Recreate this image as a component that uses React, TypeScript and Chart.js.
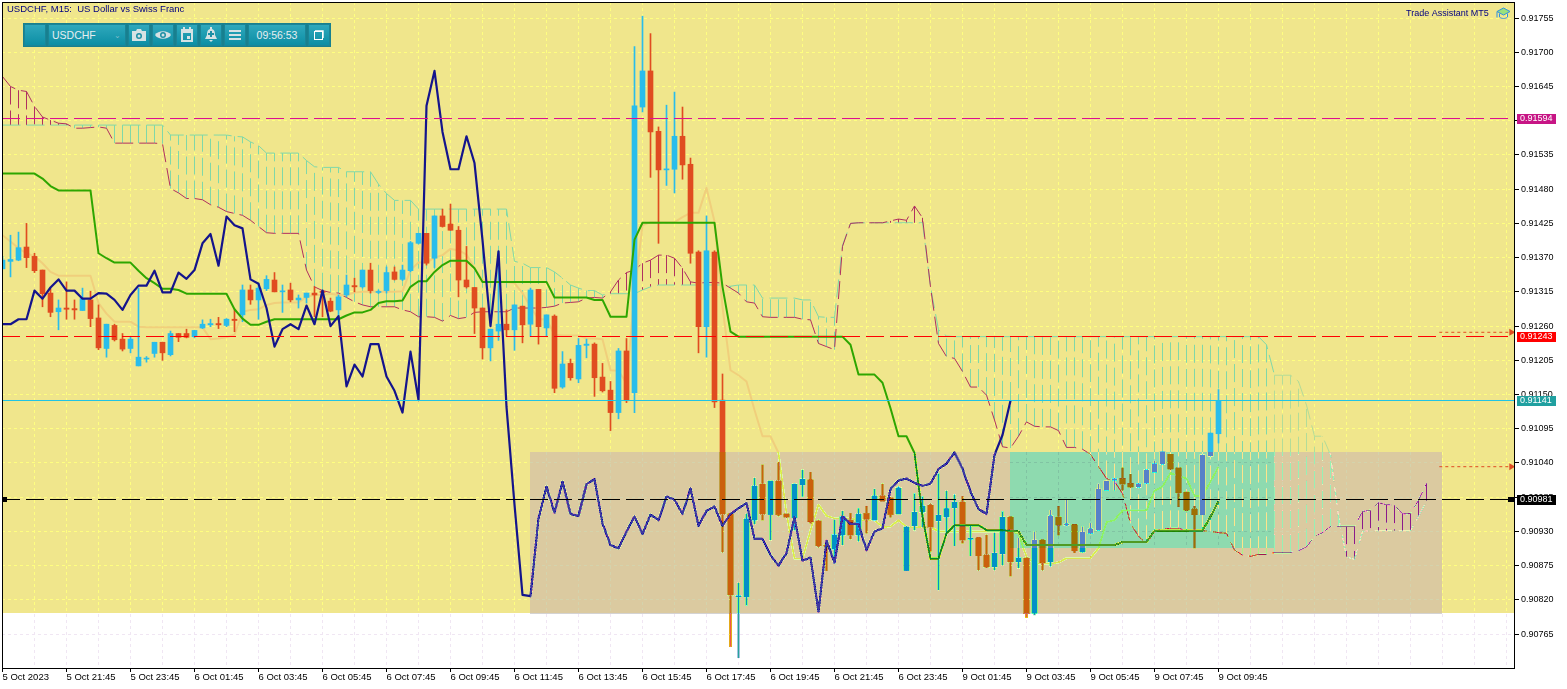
import { useEffect, useRef } from "react";
import { Chart, registerables } from "chart.js";

Chart.register(...registerables);

// all prices are in points (1e-5), one entry per M15 bar
const opens = [
  91352, 91364, 91366, 91387, 91372, 91350, 91313, 91283, 91289, 91288,
  91285, 91302, 91273, 91224, 91261, 91239, 91224, 91196, 91207, 91216,
  91234, 91214, 91248, 91248, 91243, 91257, 91262, 91264, 91261, 91271,
  91278, 91318, 91302, 91320, 91334, 91315, 91318, 91302, 91306, 91313,
  91316, 91300, 91286, 91310, 91325, 91323, 91350, 91314, 91317, 91347,
  91335, 91349, 91393, 91409, 91369, 91437, 91424, 91414, 91334, 91322,
  91289, 91225, 91252, 91263, 91254, 91292, 91263, 91319, 91257, 91276,
  91162, 91200, 91175, 91229, 91231, 91178, 91157, 91121, 91220, 91153,
  91612, 91670, 91573, 91511, 91512, 91565, 91520, 91379, 91259, 91379,
  91141, 90958, 90825, 90825, 90948, 91006, 90957, 91011, 90958, 90952,
  91005, 91013, 90947, 90908, 90901, 90924, 90948, 90924, 90959, 90948,
  90987, 90984, 90958, 90867, 90939, 90961, 90972, 90947, 90953, 90968,
  90977, 90917, 90920, 90892, 90873, 90894, 90953, 90881, 90887, 90798,
  90916, 90881, 90953, 90940, 90941, 90897, 90927, 90932, 90996, 91012,
  91015, 91007, 91001, 91007, 91025, 91038, 91054, 91032, 90993, 90966,
  90957, 91051, 91087,
];
const highs = [
  91372, 91406, 91411, 91425, 91377, 91350, 91320, 91302, 91331, 91302,
  91321, 91316, 91294, 91263, 91263, 91248, 91243, 91321, 91211, 91234,
  91234, 91252, 91248, 91255, 91253, 91270, 91271, 91274, 91272, 91286,
  91326, 91326, 91329, 91341, 91346, 91326, 91329, 91310, 91313, 91323,
  91317, 91305, 91310, 91342, 91337, 91350, 91361, 91318, 91355, 91355,
  91358, 91396, 91409, 91409, 91437, 91448, 91456, 91420, 91388, 91322,
  91289, 91255, 91380, 91286, 91294, 91292, 91321, 91319, 91278, 91278,
  91219, 91207, 91240, 91239, 91233, 91200, 91171, 91224, 91240, 91709,
  91758, 91730, 91580, 91615, 91636, 91612, 91530, 91381, 91437, 91381,
  91183, 90958, 90847, 90958, 91016, 91037, 91011, 91041, 90958, 91007,
  91029, 91025, 90948, 90908, 90948, 90963, 90959, 90967, 90970, 90998,
  91006, 90984, 91002, 90938, 90991, 90986, 90974, 91023, 90995, 90989,
  90986, 90940, 90920, 90924, 90927, 90962, 90953, 90919, 90887, 90930,
  90916, 90964, 90970, 90980, 90941, 90938, 90943, 91006, 91011, 91015,
  91032, 91022, 91007, 91029, 91043, 91058, 91054, 91032, 90993, 90970,
  91053, 91088, 91158,
];
const lows = [
  91352, 91339, 91365, 91354, 91346, 91291, 91275, 91254, 91271, 91271,
  91285, 91259, 91222, 91210, 91236, 91220, 91217, 91196, 91202, 91210,
  91205, 91212, 91235, 91241, 91241, 91256, 91259, 91256, 91259, 91251,
  91267, 91295, 91271, 91317, 91315, 91282, 91299, 91289, 91297, 91275,
  91275, 91283, 91272, 91307, 91315, 91321, 91313, 91312, 91313, 91334,
  91333, 91347, 91392, 91358, 91354, 91419, 91414, 91307, 91321, 91248,
  91207, 91204, 91237, 91244, 91221, 91233, 91243, 91231, 91243, 91153,
  91160, 91173, 91169, 91209, 91147, 91154, 91092, 91111, 91137, 91121,
  91604, 91499, 91393, 91486, 91474, 91496, 91361, 91217, 91210, 91129,
  90897, 90745, 90727, 90811, 90942, 90948, 90916, 90955, 90953, 90932,
  90986, 90943, 90905, 90867, 90879, 90908, 90918, 90914, 90927, 90948,
  90979, 90953, 90958, 90867, 90932, 90937, 90898, 90836, 90924, 90907,
  90911, 90891, 90868, 90872, 90868, 90876, 90858, 90871, 90792, 90796,
  90868, 90874, 90924, 90939, 90896, 90896, 90926, 90932, 90996, 90996,
  90996, 91001, 91001, 91007, 91025, 91038, 91030, 90970, 90963, 90903,
  90957, 91051, 91072,
];
const closes = [
  91366, 91367, 91386, 91370, 91349, 91312, 91282, 91289, 91287, 91286,
  91304, 91272, 91225, 91263, 91238, 91223, 91239, 91210, 91208, 91234,
  91217, 91248, 91242, 91242, 91253, 91263, 91264, 91262, 91271, 91269,
  91318, 91302, 91321, 91335, 91315, 91316, 91302, 91305, 91313, 91310,
  91314, 91284, 91307, 91326, 91323, 91350, 91317, 91315, 91346, 91335,
  91350, 91394, 91409, 91361, 91437, 91420, 91414, 91334, 91323, 91289,
  91225, 91255, 91263, 91254, 91294, 91262, 91318, 91259, 91278, 91160,
  91199, 91177, 91229, 91231, 91177, 91156, 91121, 91220, 91140, 91614,
  91670, 91572, 91511, 91512, 91565, 91519, 91377, 91259, 91381, 91138,
  90958, 90828, 90826, 90950, 91003, 90958, 91011, 90957, 90953, 91006,
  91014, 90946, 90907, 90906, 90925, 90954, 90924, 90958, 90950, 90987,
  90979, 90957, 91000, 90937, 90961, 90971, 90937, 90956, 90967, 90977,
  90916, 90919, 90891, 90873, 90895, 90953, 90881, 90888, 90798, 90916,
  90880, 90955, 90940, 90942, 90899, 90929, 90934, 90998, 91011, 91015,
  91006, 91001, 91007, 91029, 91039, 91058, 91030, 90992, 90964, 90957,
  91053, 91088, 91140,
];

const tenkan = [
  91406, 91396, 91385, 91377, 91372, 91361, 91347, 91341, 91341, 91341,
  91341, 91341, 91297, 91280, 91267, 91267, 91267, 91259, 91258, 91258,
  91258, 91258, 91258, 91258, 91258, 91258, 91239, 91240, 91242, 91246,
  91283, 91286, 91287, 91294, 91297, 91298, 91298, 91298, 91307, 91310,
  91310, 91312, 91310, 91310, 91314, 91315, 91315, 91315, 91315, 91315,
  91316, 91350, 91362, 91362, 91370, 91374, 91384, 91382, 91375, 91353,
  91334, 91331, 91331, 91331, 91329, 91313, 91291, 91271, 91271, 91246,
  91245, 91245, 91245, 91240, 91240, 91239, 91189, 91188, 91168, 91313,
  91422, 91427, 91427, 91427, 91427, 91435, 91442, 91442, 91482, 91428,
  91291, 91189, 91181, 91171, 91125, 91083, 91083, 91056, 90959, 90886,
  90886, 90932, 90973, 90955, 90951, 90951, 90951, 90948, 90948, 90948,
  90937, 90938, 90948, 90937, 90937, 90937, 90937, 90930, 90930, 90930,
  90930, 90930, 90930, 90930, 90930, 90930, 90930, 90926, 90889, 90878,
  90878, 90879, 90880, 90887, 90887, 90887, 90887, 90903, 90945, 90948,
  90964, 90964, 90964, 90964, 90995, 91002, 91024, 91019, 91015, 90987,
  90987, 91010, 91034,
];
const kijun = [
  91505, 91505, 91505, 91505, 91505, 91497, 91485, 91478, 91478, 91478,
  91478, 91478, 91377, 91369, 91362, 91362, 91362, 91349, 91337, 91329,
  91320, 91320, 91318, 91312, 91312, 91312, 91312, 91312, 91312, 91287,
  91272, 91262, 91262, 91267, 91271, 91271, 91271, 91271, 91271, 91271,
  91271, 91271, 91271, 91277, 91282, 91282, 91286, 91297, 91300, 91300,
  91301, 91323, 91332, 91332, 91347, 91358, 91365, 91365, 91365, 91353,
  91331, 91331, 91331, 91331, 91331, 91331, 91331, 91331, 91331, 91306,
  91306, 91306, 91306, 91306, 91302, 91302, 91275, 91275, 91275, 91399,
  91426, 91426, 91426, 91426, 91426, 91426, 91426, 91426, 91426, 91426,
  91323, 91251, 91243, 91243, 91243, 91243, 91243, 91243, 91243, 91243,
  91243, 91243, 91243, 91243, 91243, 91243, 91230, 91182, 91182, 91182,
  91169, 91128, 91083, 91083, 91056, 90954, 90886, 90886, 90927, 90940,
  90940, 90940, 90940, 90932, 90932, 90932, 90931, 90930, 90908, 90908,
  90908, 90908, 90908, 90908, 90908, 90908, 90908, 90908, 90908, 90908,
  90913, 90913, 90913, 90913, 90931, 90931, 90931, 90931, 90931, 90931,
  90931, 90954, 90978,
];
const chikou = [
  91263, 91263, 91271, 91271, 91317, 91304, 91322, 91335, 91317, 91317,
  91304, 91304, 91313, 91312, 91302, 91286, 91310, 91325, 91325, 91349,
  91314, 91314, 91346, 91336, 91350, 91393, 91408, 91357, 91436, 91422,
  91417, 91335, 91328, 91289, 91227, 91255, 91263, 91255, 91293, 91263,
  91317, 91260, 91276, 91163, 91198, 91179, 91231, 91231, 91179, 91156,
  91121, 91219, 91141, 91614, 91670, 91572, 91512, 91512, 91565, 91522,
  91398, 91260, 91380, 91130, 90973, 90828, 90826, 90951, 91002, 90960,
  91010, 90958, 90955, 91006, 91014, 90943, 90908, 90903, 90930, 90954,
  90926, 90957, 90948, 90986, 90981, 90958, 90999, 90939, 90963, 90970,
  90939, 90958, 90967, 90976, 90918, 90918, 90892, 90875, 90895, 90953,
  90883, 90888, 90801, 90915, 90880, 90954, 90942, 90942, 90900, 90930,
  90935, 90998, 91012, 91015, 91008, 91003, 91007, 91030, 91039, 91057,
  91031, 90994, 90966, 90958, 91053, 91085, 91140,
];
const spanA = [
  91583, 91583, 91583, 91583, 91583, 91583, 91583, 91583, 91583, 91583,
  91583, 91583, 91583, 91583, 91583, 91583, 91583, 91583, 91583, 91583,
  91583, 91567, 91567, 91567, 91567, 91567, 91567, 91567, 91567, 91565,
  91564, 91556, 91550, 91538, 91538, 91538, 91538, 91538, 91526, 91516,
  91515, 91515, 91515, 91508, 91508, 91508, 91508, 91488, 91473, 91462,
  91462, 91462, 91448, 91448, 91448, 91448, 91448, 91448, 91448, 91448,
  91448, 91448, 91448, 91448, 91364, 91361, 91354, 91354, 91354, 91347,
  91337, 91326, 91321, 91317, 91317, 91310, 91312, 91312, 91312, 91312,
  91318, 91323, 91326, 91326, 91326, 91326, 91326, 91326, 91326, 91326,
  91326, 91324, 91326, 91326, 91326, 91305, 91305, 91305, 91305, 91305,
  91302, 91302, 91275, 91274, 91274, 91390, 91425, 91426, 91426, 91426,
  91426, 91426, 91426, 91426, 91426, 91426, 91323, 91254, 91244, 91243,
  91243, 91243, 91243, 91243, 91243, 91243, 91243, 91243, 91243, 91243,
  91243, 91243, 91243, 91243, 91243, 91243, 91243, 91243, 91243, 91243,
  91243, 91243, 91243, 91243, 91243, 91243, 91243, 91243, 91243, 91243,
  91243, 91243, 91243, 91243, 91243, 91243, 91243, 91243, 91230, 91181,
  91181, 91181, 91171, 91133, 91083, 91083, 91053, 90954, 90889, 90885,
  90930, 90931, 90931, 90931, 90931, 90931, 90931, 90954, 90979,
];
const spanB = [
  91661, 91645, 91639, 91637, 91613, 91596, 91591, 91586, 91585, 91578,
  91578, 91579, 91580, 91578, 91554, 91554, 91554, 91554, 91554, 91554,
  91553, 91481, 91474, 91465, 91465, 91463, 91455, 91451, 91444, 91441,
  91438, 91430, 91420, 91410, 91409, 91409, 91409, 91409, 91350, 91323,
  91317, 91314, 91313, 91306, 91299, 91294, 91291, 91291, 91291, 91291,
  91286, 91283, 91275, 91275, 91274, 91268, 91277, 91272, 91274, 91282,
  91283, 91283, 91283, 91283, 91289, 91289, 91289, 91289, 91290, 91292,
  91297, 91298, 91299, 91305, 91306, 91305, 91315, 91334, 91346, 91350,
  91361, 91366, 91374, 91374, 91369, 91353, 91331, 91329, 91330, 91330,
  91329, 91321, 91313, 91299, 91297, 91275, 91274, 91274, 91274, 91274,
  91271, 91270, 91232, 91227, 91222, 91388, 91425, 91426, 91426, 91426,
  91426, 91429, 91432, 91430, 91453, 91434, 91323, 91232, 91211, 91208,
  91187, 91162, 91162, 91149, 91109, 91066, 91064, 91083, 91106, 91099,
  91098, 91098, 91092, 91065, 91065, 91062, 91054, 91034, 91015, 91010,
  90991, 90943, 90922, 90911, 90930, 90934, 90935, 90935, 90931, 90931,
  90931, 90930, 90928, 90927, 90900, 90892, 90890, 90893, 90893, 90896,
  90896, 90896, 90899, 90905, 90922, 90928, 90938, 90938, 90938, 90938,
  90962, 90964, 90976, 90973, 90972, 90958, 90959, 90980, 91007,
];

const timeLabels = [
  "5 Oct 2023", "5 Oct 21:45", "5 Oct 23:45", "6 Oct 01:45", "6 Oct 03:45",
  "6 Oct 05:45", "6 Oct 07:45", "6 Oct 09:45", "6 Oct 11:45", "6 Oct 13:45",
  "6 Oct 15:45", "6 Oct 17:45", "6 Oct 19:45", "6 Oct 21:45", "6 Oct 23:45",
  "9 Oct 01:45", "9 Oct 03:45", "9 Oct 05:45", "9 Oct 07:45", "9 Oct 09:45",
];
const priceTicks = [
  91755, 91700, 91645, 91590, 91535, 91480, 91425, 91370, 91315, 91260,
  91205, 91150, 91095, 91040, 90985, 90930, 90875, 90820, 90765,
];
const levelPrices = [91594, 91243, 91141, 90981];
const alertPrices = [91250, 91034];

const X_MIN = -0.0625;
const X_MAX = 189.0625;
const Y_MIN = 90710.5;
const Y_MAX = 91780.8;

// rectangle objects on the chart: bars and prices. The first one is the part
// of the window that the big yellow rectangle does not reach.
const zoneFrom = [X_MIN, 65.95, 125.95];
const zoneTo = [X_MAX, 179.95, 158.95];
const zoneTop = [90799, 91058, 91058];
const zoneBottom = [Y_MIN, 90798, 90903];
const GREEN_ZONE_END = 159;

// MT5 paints these rectangles by xor-ing the chart under them
const zoneMasks = [
  [0x0f, 0x19, 0x73],
  [0x2b, 0x2c, 0x2c],
  [0x55, 0x10, 0x0f],
];

const BLUE = "#29bdeb";
const ORANGE = "#e04c20";
const NAVY = "#14148c";
const GREEN = "#2ea600";
const PEACH = "#f0cf7c";
const AQUA = "#80d8a8";
const CRIMSON = "#b03060";
// what the cloud has to be before the xor to come out mint and purple on the tan
const AQUA_RIGHT = "#b3dc98";
const CRIMSON_RIGHT = "#a036a7";
const YELLOW = "#f0e68c";
const GRID = "#ffff80";
const FONT = '"Liberation Sans", Arial, sans-serif';
const DASH = [18, 6];

const levelColors = ["#dc1090", "#ff0000", "#20c4e4", "#000000"];
const levelBoxes = ["#c71585", "#ff0000", "#20a0a0", "#000000"];

const series = (values: number[]) => values.map((y, i) => ({ x: i, y }));

// hatch strokes run from span B to span A, which is what staggers their dashes
function hatch(wantA: boolean, from: number, to: number) {
  const out: { x: number; y: number }[] = [];
  spanB.forEach((b, i) => {
    const a = spanA[i];
    if (i < from || i >= to || a === b || a > b !== wantA) return;
    out.push({ x: i, y: b }, { x: i, y: a }, { x: i, y: NaN });
  });
  return out;
}

function candleBars(up: boolean, from: number[], to: number[]) {
  const out: { x: number; y: [number, number] }[] = [];
  closes.forEach((c, i) => {
    if (c >= opens[i] === up) out.push({ x: i, y: [from[i], to[i]] });
  });
  return out;
}

const lineBase = { type: "line" as const, pointRadius: 0, tension: 0, fill: false, borderJoinStyle: "round" as const };
const cloudBase = { ...lineBase, borderWidth: 1, borderDash: DASH, spanGaps: false };

const splitColor = (left: string, right: string) => ({
  borderColor: (c: any) => (c.p0.parsed.x >= GREEN_ZONE_END ? right : left),
});

function buildDatasets() {
  const sets: any[] = [
    { ...cloudBase, label: "Hatch up", data: hatch(true, 0, GREEN_ZONE_END), borderColor: AQUA },
    { ...cloudBase, label: "Hatch down", data: hatch(false, 0, GREEN_ZONE_END), borderColor: CRIMSON },
    { ...cloudBase, label: "Hatch up right", data: hatch(true, GREEN_ZONE_END, 999), borderColor: AQUA_RIGHT },
    { ...cloudBase, label: "Hatch down right", data: hatch(false, GREEN_ZONE_END, 999), borderColor: CRIMSON_RIGHT },
    { ...cloudBase, label: "Span A", data: series(spanA), borderColor: AQUA, segment: splitColor(AQUA, AQUA_RIGHT) },
    { ...cloudBase, label: "Span B", data: series(spanB), borderColor: CRIMSON, segment: splitColor(CRIMSON, CRIMSON_RIGHT) },
    { ...lineBase, label: "Tenkan", data: series(tenkan), borderColor: PEACH, borderWidth: 2 },
    { type: "bar", label: "Wick up", data: candleBars(true, lows, highs), backgroundColor: BLUE, barThickness: 1, grouped: false, minBarLength: 1 },
    { type: "bar", label: "Wick down", data: candleBars(false, lows, highs), backgroundColor: ORANGE, barThickness: 1, grouped: false, minBarLength: 1 },
    { type: "bar", label: "Body up", data: candleBars(true, opens, closes), backgroundColor: BLUE, barThickness: 5, grouped: false, minBarLength: 1 },
    { type: "bar", label: "Body down", data: candleBars(false, opens, closes), backgroundColor: ORANGE, barThickness: 5, grouped: false, minBarLength: 1 },
    { ...lineBase, label: "Kijun", data: series(kijun), borderColor: GREEN, borderWidth: 2 },
    { ...lineBase, label: "Chikou", data: series(chikou), borderColor: NAVY, borderWidth: 2.2 },
  ];
  alertPrices.forEach((p) => {
    sets.push({
      ...lineBase,
      label: "Alert " + p,
      data: [{ x: 179.6, y: p }, { x: 188.6, y: p }],
      borderColor: "#e04c20",
      borderWidth: 1,
      borderDash: [3, 3],
      pointRadius: [0, 4],
      pointStyle: "triangle",
      pointRotation: 90,
      pointBackgroundColor: "#e04c20",
      pointBorderWidth: 0,
    });
  });
  // higher order is drawn first
  sets.forEach((s, i) => {
    s.order = sets.length - i;
  });
  return sets;
}

const xorZones = (chart: any) => {
  const { ctx, scales } = chart;
  zoneFrom.forEach((from, z) => {
    const x = Math.round(scales.x.getPixelForValue(from));
    const y = Math.round(scales.y.getPixelForValue(zoneTop[z]));
    const w = Math.round(scales.x.getPixelForValue(zoneTo[z])) - x;
    const h = Math.round(scales.y.getPixelForValue(zoneBottom[z])) - y;
    const img = ctx.getImageData(x, y, w, h);
    const d = img.data;
    const m = zoneMasks[z];
    for (let i = 0; i < d.length; i += 4) {
      d[i] ^= m[0];
      d[i + 1] ^= m[1];
      d[i + 2] ^= m[2];
    }
    ctx.putImageData(img, x, y);
  });
};

const terminalPlugin = {
  id: "terminal",
  beforeDraw(chart: any) {
    const { ctx, width, height, chartArea } = chart;
    ctx.save();
    ctx.fillStyle = "#ffffff";
    ctx.fillRect(0, 0, width, height);
    ctx.fillStyle = YELLOW;
    ctx.fillRect(chartArea.left, chartArea.top, chartArea.right - chartArea.left, chartArea.bottom - chartArea.top);
    ctx.restore();
  },
  afterDatasetDraw(chart: any, args: any) {
    if (chart.data.datasets[args.index].label === "Chikou") xorZones(chart);
  },
  afterDraw(chart: any) {
    const { ctx, scales, chartArea } = chart;
    ctx.save();

    // horizontal levels sit on top of everything, snapped to a pixel row
    levelPrices.forEach((p, i) => {
      const y = Math.floor(scales.y.getPixelForValue(p)) + 0.5;
      ctx.strokeStyle = levelColors[i];
      ctx.lineWidth = 1;
      ctx.setLineDash(i === 2 ? [] : DASH);
      ctx.beginPath();
      ctx.moveTo(chartArea.left, y);
      ctx.lineTo(chartArea.right, y);
      ctx.stroke();
    });
    ctx.setLineDash([]);

    ctx.strokeStyle = "#000000";
    ctx.strokeRect(chartArea.left + 0.5, chartArea.top + 0.5, chartArea.right - chartArea.left - 1, chartArea.bottom - chartArea.top);

    ctx.textBaseline = "middle";
    ctx.fillStyle = "#000080";
    ctx.font = `9.5px ${FONT}`;
    ctx.fillText("USDCHF, M15:  US Dollar vs Swiss Franc", 7, 9.5);
    ctx.font = `9px ${FONT}`;
    ctx.fillText("Trade Assistant MT5", 1406, 14);

    levelPrices.forEach((p, i) => {
      const y = Math.floor(scales.y.getPixelForValue(p));
      ctx.fillStyle = levelBoxes[i];
      ctx.fillRect(1517, y - 4, 39, 10);
      ctx.fillStyle = "#ffffff";
      ctx.font = `9px ${FONT}`;
      ctx.fillText((p / 100000).toFixed(5), 1520, y + 1);
    });

    // black square markers at both ends of the dashed level
    const markY = Math.floor(scales.y.getPixelForValue(levelPrices[3]));
    ctx.fillStyle = "#000000";
    ctx.fillRect(chartArea.left + 1, markY - 2, 4, 5);
    ctx.fillRect(chartArea.right - 7, markY - 2, 7, 5);
    ctx.restore();
  },
};

function Icon({ children }: { children: React.ReactNode }) {
  return (
    <svg width="16" height="16" viewBox="0 0 16 16" fill="#d6e2e4">
      {children}
    </svg>
  );
}

function ToolButton({ width, children }: { width: number; children?: React.ReactNode }) {
  return (
    <div
      style={{
        width,
        height: 22,
        boxSizing: "border-box",
        border: "1px solid #1c8496",
        background: "linear-gradient(#2fa8bc, #0c8ea4)",
        color: "#e6eef0",
        display: "flex",
        alignItems: "center",
        justifyContent: "center",
        fontFamily: FONT,
        fontSize: 10.5,
      }}
    >
      {children}
    </div>
  );
}

function Toolbar() {
  return (
    <div
      style={{
        position: "absolute",
        left: 23,
        top: 23,
        width: 308,
        height: 24,
        boxSizing: "border-box",
        background: "#17808f",
        border: "1px solid #17808f",
        display: "flex",
        gap: 2,
      }}
    >
      <ToolButton width={22} />
      <ToolButton width={78}>
        <span style={{ flex: 1, paddingLeft: 3 }}>USDCHF</span>
        <span style={{ marginRight: 4, fontSize: 8, color: "#7fbcc8" }}>⌄</span>
      </ToolButton>
      <ToolButton width={22}>
        <Icon>
          <path d="M1 4h4l1-2h4l1 2h4v10H1z" />
          <circle cx="8" cy="9" r="3" fill="#1c8fa4" />
          <circle cx="8" cy="9" r="1.5" />
        </Icon>
      </ToolButton>
      <ToolButton width={22}>
        <Icon>
          <path d="M0 8c3-5 13-5 16 0-3 5-13 5-16 0z" />
          <circle cx="8" cy="8" r="3" fill="#1c8fa4" />
          <circle cx="8" cy="8" r="1.5" />
        </Icon>
      </ToolButton>
      <ToolButton width={22}>
        <Icon>
          <path d="M2 2h2V0h2v2h4V0h2v2h2v13H2zM4 6v7h8V6z" />
          <rect x="8" y="9" width="3" height="3" />
        </Icon>
      </ToolButton>
      <ToolButton width={22}>
        <Icon>
          <path d="M7 0h2v2c3 1 3 4 3 6l2 4H2l2-4c0-2 0-5 3-6zM6 13h4l-2 2z" />
          <path d="M7 4h2v2h2v2H9v2H7V8H5V6h2z" fill="#1c8fa4" />
        </Icon>
      </ToolButton>
      <ToolButton width={22}>
        <Icon>
          <rect x="2" y="3" width="12" height="2" />
          <rect x="2" y="7" width="12" height="2" />
          <rect x="2" y="11" width="12" height="2" />
        </Icon>
      </ToolButton>
      <ToolButton width={58}>09:56:53</ToolButton>
      <ToolButton width={22}>
        <svg width="10" height="10" viewBox="0 0 10 10" fill="none" stroke="#ffffff">
          <rect x="0.5" y="1.5" width="8" height="8" strokeWidth="1" />
          <path d="M1 1h8v7" strokeWidth="1.4" />
        </svg>
      </ToolButton>
    </div>
  );
}

export default function App() {
  const canvasRef = useRef<HTMLCanvasElement | null>(null);

  useEffect(() => {
    if (!canvasRef.current) return undefined;

    const chart = new Chart(canvasRef.current, {
      type: "bar",
      data: { datasets: buildDatasets() },
      plugins: [terminalPlugin],
      options: {
        responsive: false,
        animation: false,
        devicePixelRatio: 1,
        layout: { autoPadding: false, padding: { left: 2, top: 2, right: 0, bottom: 0 } },
        plugins: { legend: { display: false }, tooltip: { enabled: false } },
        scales: {
          x: {
            type: "linear",
            position: "bottom",
            offset: false,
            min: X_MIN,
            max: X_MAX,
            afterBuildTicks: (axis: any) => {
              const ticks = [];
              for (let v = 0; v <= 188; v += 4) ticks.push({ value: v });
              axis.ticks = ticks;
            },
            afterFit: (axis: any) => {
              axis.height = 21;
              axis.paddingLeft = 0;
              axis.paddingRight = 0;
            },
            grid: {
              offset: false,
              color: GRID,
              tickLength: 4,
              tickColor: (c: any) => (c.tick && c.tick.value % 8 === 0 && c.tick.value <= 152 ? "#000000" : "rgba(0,0,0,0)"),
            },
            border: { display: false, dash: [3, 3] },
            ticks: {
              autoSkip: false,
              maxRotation: 0,
              minRotation: 0,
              align: "start",
              padding: 0,
              color: "#000000",
              font: { family: FONT, size: 9.5 },
              callback: (v: any) => (Number(v) % 8 === 0 ? timeLabels[Number(v) / 8] ?? "" : ""),
            },
          },
          y: {
            type: "linear",
            position: "right",
            beginAtZero: false,
            min: Y_MIN,
            max: Y_MAX,
            afterBuildTicks: (axis: any) => {
              axis.ticks = priceTicks.map((value) => ({ value }));
            },
            afterFit: (axis: any) => {
              axis.width = 52;
              axis.paddingTop = 0;
              axis.paddingBottom = 0;
            },
            grid: { color: GRID, tickLength: 4, tickColor: "#000000" },
            border: { display: false, dash: [3, 3] },
            ticks: {
              padding: 2,
              color: "#000000",
              font: { family: FONT, size: 9 },
              callback: (v: any) => (Number(v) / 100000).toFixed(5),
            },
          },
        },
      },
    } as any);

    return () => chart.destroy();
  }, []);

  return (
    <div style={{ position: "fixed", left: 0, top: 0, width: 1567, height: 689, background: "#ffffff" }}>
      <canvas ref={canvasRef} width={1567} height={689} style={{ display: "block" }} />
      <Toolbar />
      <svg style={{ position: "absolute", left: 1496, top: 7 }} width="15" height="14" viewBox="0 0 15 14">
        <path d="M7.5 1L14 4.5 7.5 8 1 4.5z" fill="#9be27a" stroke="#2f8fe0" />
        <path d="M3.5 6.5v3.5c2 2 6 2 8 0V6.5" fill="none" stroke="#2f8fe0" />
        <path d="M1 4.5v6" stroke="#2f8fe0" />
      </svg>
    </div>
  );
}
